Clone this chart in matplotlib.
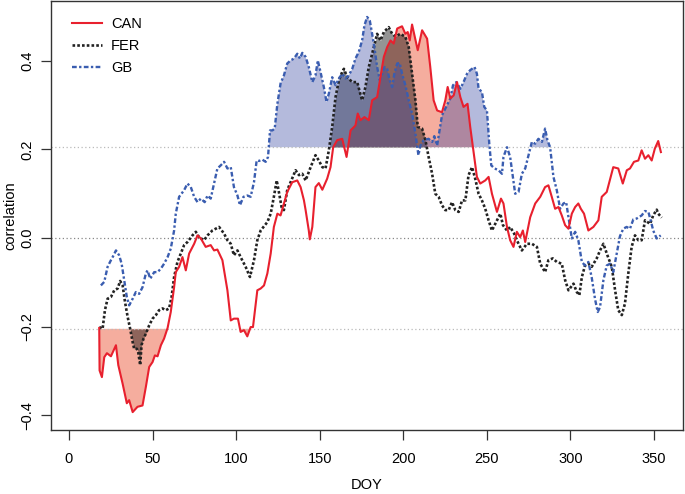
import matplotlib
matplotlib.use("Agg")
import matplotlib.pyplot as plt

plt.rcParams['font.family'] = ['Liberation Sans', 'DejaVu Sans']

# DOY and correlation values (moving-window correlations)
can_doy = [18.1, 18.3, 19.7, 21.1, 22.7, 25.1, 28.1, 29.5, 32.1, 34.6, 36.0, 38.1, 41.0, 44.0,
           46.0, 48.0, 50.0, 51.4, 53.0, 55.0, 56.9, 59.0, 60.9, 62.9, 63.9, 65.9, 67.9, 69.9,
           71.9, 74.9, 76.9, 78.9, 81.8, 84.8, 86.8, 88.8, 91.8, 94.8, 96.8, 98.7, 101.1, 102.7,
           104.7, 106.7, 108.7, 110.1, 112.7, 114.7, 116.7, 118.7, 120.7, 122.6, 124.7, 126.6,
           130.6, 133.6, 136.6, 138.6, 140.6, 141.6, 143.5, 144.1, 145.6, 147.5, 149.5, 151.6,
           154.5, 156.5, 158.1, 160.5, 163.5, 166.1, 168.5, 171.4, 172.8, 174.4, 176.8, 179.4,
           181.4, 184.4, 186.4, 188.4, 190.4, 192.4, 194.3, 196.4, 199.3, 201.3, 202.7, 203.9,
           205.3, 208.7, 211.3, 214.3, 216.2, 218.2, 220.3, 223.2, 225.2, 226.6, 228.2, 230.2,
           232.2, 234.2, 236.1, 238.5, 240.1, 242.5, 244.1, 246.1, 249.1, 251.1, 253.1, 256.1,
           258.5, 260.0, 262.1, 264.0, 266.0, 268.0, 270.0, 271.6, 273.0, 276.0, 279.0, 282.0,
           284.9, 286.9, 288.9, 290.9, 292.9, 294.9, 296.9, 298.9, 300.9, 302.9, 304.8, 306.3,
           308.2, 310.8, 313.8, 316.8, 318.8, 321.8, 325.7, 328.7, 331.4, 333.8, 335.7, 338.1,
           340.7, 342.7, 344.7, 346.7, 348.7, 350.6, 352.6, 354.2]
can_r = [-0.203, -0.299, -0.314, -0.269, -0.260, -0.267, -0.242, -0.287, -0.329, -0.373, -0.366,
         -0.393, -0.381, -0.378, -0.336, -0.291, -0.280, -0.265, -0.267, -0.242, -0.227, -0.203,
         -0.167, -0.111, -0.077, -0.065, -0.043, -0.073, -0.035, -0.013, 0.006, -0.001, -0.020,
         -0.016, -0.028, -0.026, -0.050, -0.118, -0.186, -0.182, -0.182, -0.212, -0.208, -0.222,
         -0.201, -0.201, -0.118, -0.114, -0.107, -0.080, -0.035, 0.025, 0.055, 0.051, 0.104,
         0.126, 0.130, 0.115, 0.085, 0.063, 0.017, -0.003, 0.025, 0.115, 0.124, 0.109, 0.134,
         0.160, 0.205, 0.221, 0.224, 0.183, 0.243, 0.254, 0.281, 0.266, 0.273, 0.266, 0.311,
         0.318, 0.363, 0.409, 0.431, 0.446, 0.439, 0.473, 0.478, 0.461, 0.465, 0.446, 0.482,
         0.424, 0.469, 0.450, 0.386, 0.311, 0.288, 0.284, 0.311, 0.341, 0.315, 0.322, 0.352,
         0.318, 0.296, 0.303, 0.251, 0.183, 0.138, 0.123, 0.130, 0.138, 0.100, 0.059, 0.089,
         0.078, 0.025, -0.005, -0.020, 0.014, 0.002, 0.017, -0.009, 0.047, 0.078, 0.093, 0.115,
         0.119, 0.093, 0.066, 0.070, 0.051, 0.029, 0.021, 0.055, 0.070, 0.078, 0.066, 0.055,
         0.017, 0.025, 0.040, 0.093, 0.104, 0.160, 0.157, 0.123, 0.153, 0.157, 0.172, 0.175,
         0.198, 0.179, 0.187, 0.175, 0.202, 0.219, 0.194]

fer_doy = [18.1, 20.1, 21.5, 23.1, 25.1, 27.1, 29.1, 30.6, 32.1, 33.5, 35.1, 36.6, 38.1, 39.0,
           40.6, 41.4, 42.6, 43.4, 44.6, 46.0, 48.0, 50.0, 52.0, 53.9, 56.0, 57.9, 59.9, 61.4,
           62.9, 64.9, 66.9, 68.9, 70.9, 73.9, 75.9, 77.8, 80.8, 82.9, 85.8, 89.8, 92.8, 94.8,
           96.8, 98.7, 100.8, 102.7, 105.7, 108.3, 110.7, 112.7, 114.7, 118.7, 120.7, 122.6,
           124.3, 125.6, 127.2, 128.6, 130.6, 132.6, 135.6, 137.6, 139.6, 141.6, 144.6, 147.5,
           149.5, 151.6, 153.5, 155.5, 157.5, 159.5, 161.5, 163.5, 164.5, 166.5, 169.5, 172.5,
           174.0, 175.4, 177.4, 179.4, 181.4, 183.0, 184.4, 186.4, 188.4, 191.3, 193.4, 195.3,
           198.3, 201.3, 203.3, 205.3, 207.3, 208.7, 211.3, 213.3, 215.2, 217.3, 219.2, 221.2,
           223.2, 225.2, 227.2, 229.2, 231.2, 233.2, 235.2, 237.2, 239.1, 241.2, 243.1, 245.1,
           247.1, 249.1, 251.1, 253.1, 256.1, 258.1, 259.7, 262.1, 264.0, 266.4, 268.0, 271.0,
           274.0, 277.0, 280.0, 282.0, 284.9, 286.9, 289.5, 291.9, 294.9, 296.9, 298.9, 301.9,
           303.9, 305.4, 306.9, 308.8, 310.8, 312.8, 315.8, 317.8, 319.8, 322.2, 324.8, 326.8,
           328.7, 330.8, 332.7, 334.7, 336.7, 338.7, 340.7, 342.7, 344.7, 347.7, 349.6, 351.7,
           352.6, 354.7]
fer_r = [-0.201, -0.205, -0.163, -0.137, -0.133, -0.118, -0.114, -0.097, -0.107, -0.144, -0.178,
         -0.205, -0.235, -0.250, -0.250, -0.257, -0.287, -0.242, -0.227, -0.216, -0.197, -0.182,
         -0.174, -0.163, -0.159, -0.163, -0.159, -0.133, -0.088, -0.054, -0.035, -0.016, -0.009,
         0.006, 0.014, 0.002, -0.005, 0.006, 0.017, 0.025, 0.010, -0.005, -0.013, -0.039,
         -0.028, -0.043, -0.065, -0.088, -0.050, -0.005, 0.017, 0.036, 0.055, 0.093, 0.130,
         0.104, 0.070, 0.063, 0.108, 0.126, 0.153, 0.142, 0.145, 0.130, 0.160, 0.187, 0.175,
         0.160, 0.157, 0.198, 0.251, 0.318, 0.356, 0.375, 0.382, 0.363, 0.352, 0.352, 0.330,
         0.311, 0.341, 0.386, 0.416, 0.439, 0.461, 0.446, 0.465, 0.476, 0.461, 0.455, 0.461,
         0.454, 0.431, 0.371, 0.311, 0.251, 0.247, 0.221, 0.183, 0.145, 0.100, 0.093, 0.074,
         0.063, 0.063, 0.081, 0.063, 0.059, 0.085, 0.085, 0.142, 0.160, 0.134, 0.100, 0.085,
         0.066, 0.040, 0.017, 0.040, 0.055, 0.029, 0.017, 0.025, 0.010, -0.005, -0.028, -0.013,
         -0.013, -0.020, -0.058, -0.077, -0.050, -0.046, -0.054, -0.058, -0.095, -0.118, -0.103,
         -0.122, -0.129, -0.088, -0.062, -0.058, -0.065, -0.046, -0.028, -0.013, -0.039, -0.065,
         -0.118, -0.163, -0.174, -0.148, -0.080, -0.020, 0.006, -0.005, -0.005, 0.040, 0.032,
         0.051, 0.064, 0.055, 0.046]

gb_doy = [19.1, 21.1, 23.1, 25.1, 26.7, 28.1, 30.0, 31.5, 33.0, 34.6, 36.0, 38.1, 40.0, 42.0,
          44.0, 46.0, 47.0, 48.6, 51.0, 53.0, 55.0, 56.9, 59.0, 60.9, 62.9, 63.9, 65.9, 68.9,
          70.9, 72.9, 74.9, 76.9, 78.9, 81.2, 82.9, 84.8, 86.8, 88.8, 90.8, 92.8, 94.8, 96.8,
          98.7, 100.8, 102.3, 104.4, 106.7, 108.7, 110.7, 112.3, 113.7, 115.7, 117.7, 119.1,
          120.3, 121.7, 123.1, 124.7, 126.6, 128.6, 130.6, 132.6, 134.6, 136.6, 138.2, 139.6,
          141.6, 143.5, 145.6, 147.5, 148.9, 150.5, 152.5, 154.1, 155.5, 157.5, 159.5, 161.5,
          163.5, 165.5, 167.4, 169.5, 171.4, 173.4, 175.4, 176.8, 178.4, 180.0, 181.4, 183.0,
          184.4, 186.0, 187.4, 188.8, 190.4, 191.9, 193.4, 194.7, 196.4, 197.9, 199.3, 201.3,
          203.3, 205.3, 207.3, 209.1, 210.3, 212.2, 215.2, 217.3, 218.6, 220.3, 223.2, 226.2,
          228.2, 229.8, 231.8, 234.2, 236.1, 238.2, 240.1, 242.7, 244.1, 245.1, 247.1, 248.5,
          250.1, 251.5, 252.7, 254.7, 257.1, 259.1, 260.0, 262.1, 264.0, 265.6, 267.0, 269.0,
          271.0, 273.0, 275.0, 277.0, 279.0, 280.9, 283.0, 284.9, 286.3, 287.9, 289.9, 291.9,
          293.9, 295.9, 297.5, 298.9, 300.9, 302.9, 304.8, 306.9, 308.8, 310.8, 312.8, 314.8,
          316.4, 317.8, 319.8, 321.8, 323.8, 325.7, 327.8, 329.7, 331.7, 333.7, 335.7, 337.7,
          339.7, 342.7, 344.7, 346.7, 348.1, 349.6, 351.7, 354.1]
gb_r = [-0.107, -0.099, -0.065, -0.050, -0.039, -0.028, -0.039, -0.058, -0.095, -0.133, -0.152,
        -0.137, -0.122, -0.126, -0.111, -0.080, -0.073, -0.092, -0.077, -0.077, -0.069, -0.058,
        -0.043, -0.024, 0.017, 0.055, 0.093, 0.108, 0.123, 0.115, 0.093, 0.081, 0.089, 0.081,
        0.096, 0.089, 0.123, 0.157, 0.164, 0.172, 0.157, 0.160, 0.115, 0.096, 0.074, 0.093,
        0.096, 0.093, 0.126, 0.175, 0.174, 0.177, 0.172, 0.183, 0.243, 0.243, 0.247, 0.303,
        0.349, 0.367, 0.394, 0.401, 0.405, 0.416, 0.405, 0.418, 0.409, 0.386, 0.352, 0.367,
        0.401, 0.375, 0.341, 0.307, 0.326, 0.363, 0.345, 0.360, 0.371, 0.360, 0.367, 0.382,
        0.405, 0.420, 0.446, 0.480, 0.499, 0.491, 0.461, 0.424, 0.386, 0.356, 0.371, 0.386,
        0.382, 0.356, 0.341, 0.371, 0.394, 0.395, 0.371, 0.345, 0.311, 0.281, 0.236, 0.187,
        0.209, 0.221, 0.224, 0.217, 0.230, 0.209, 0.277, 0.300, 0.315, 0.345, 0.352, 0.337,
        0.352, 0.371, 0.379, 0.386, 0.371, 0.337, 0.330, 0.296, 0.288, 0.213, 0.164, 0.157,
        0.153, 0.145, 0.183, 0.205, 0.183, 0.138, 0.100, 0.104, 0.145, 0.157, 0.187, 0.217,
        0.213, 0.224, 0.217, 0.247, 0.221, 0.205, 0.138, 0.108, 0.066, 0.078, 0.081, 0.047,
        -0.001, 0.014, -0.005, -0.054, -0.062, -0.054, -0.089, -0.138, -0.167, -0.156, -0.095,
        -0.062, -0.058, -0.077, -0.035, 0.004, 0.021, 0.025, 0.021, 0.042, 0.044, 0.051, 0.061,
        0.059, 0.040, 0.017, -0.001, 0.006]

threshold = 0.205

fig = plt.figure(figsize=(6.85, 4.94), dpi=100)
ax = fig.add_axes([0.0745, 0.129, 0.9225, 0.868])

# significance bands
for series_x, series_y, col, a in [(can_doy, can_r, '#EE6A4E', 0.55),
                                    (fer_doy, fer_r, 'black', 0.42),
                                    (gb_doy, gb_r, '#3C4BA5', 0.38)]:
    ax.fill_between(series_x, threshold, series_y,
                    where=[v > threshold for v in series_y],
                    interpolate=True, color=col, alpha=a, linewidth=0)
    ax.fill_between(series_x, -threshold, series_y,
                    where=[v < -threshold for v in series_y],
                    interpolate=True, color=col, alpha=a, linewidth=0)

for yy, c in [(threshold, '#BBBBBB'), (0.0, '#888888'), (-threshold, '#BBBBBB')]:
    ax.axhline(yy, color=c, linestyle=(0, (1, 2)), linewidth=0.9, zorder=1)

ax.plot(can_doy, can_r, color='#E8202E', linewidth=1.5, label='CAN', zorder=4)
ax.plot(fer_doy, fer_r, color='#222222', linewidth=1.9, linestyle=(0, (1, 0.8)),
        label='FER', zorder=3)
ax.plot(gb_doy, gb_r, color='#3A5DB0', linewidth=1.7, linestyle=(0, (2, 1, 1, 1)),
        label='GB', zorder=3)

ax.set_xlim(-10.75, 367.4)
ax.set_ylim(-0.434, 0.534)
ax.set_xticks(range(0, 351, 50))
ax.set_yticks([-0.4, -0.2, 0.0, 0.2, 0.4])
ax.set_yticklabels(['\u22120.4', '\u22120.2', '0.0', '0.2', '0.4'],
                   rotation=90, va='center')
ax.tick_params(labelsize=10.5, length=7, width=0.9, color='#333333', pad=9)
ax.tick_params(axis='y', pad=5)
for s in ax.spines.values():
    s.set_color('#333333')
    s.set_linewidth(1.0)

ax.set_xlabel('DOY', fontsize=10.5, labelpad=8)
ax.set_ylabel('correlation', fontsize=10.5, labelpad=2)

ax.legend(loc='upper left', bbox_to_anchor=(0.012, 0.995), frameon=False,
          fontsize=10.5, handlelength=2.1, labelspacing=0.55, handletextpad=0.6)

fig.savefig('out.png', dpi=100)
